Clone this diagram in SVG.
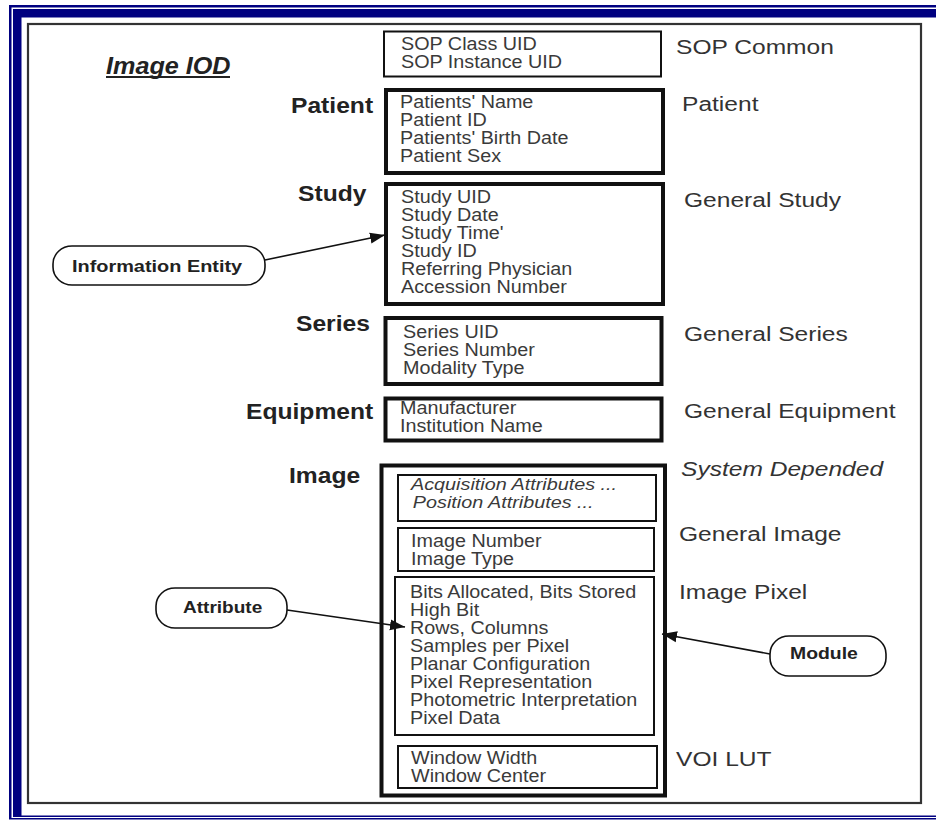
<svg xmlns="http://www.w3.org/2000/svg" width="936" height="820" viewBox="0 0 936 820">
<style>
text{font-family:"Liberation Sans",Arial,sans-serif}
.attr{font-size:17.5px;fill:#3a3a3a}
.it{font-style:italic;font-size:16.5px}
.mod{font-size:21px;fill:#333}
.ent{font-size:22px;font-weight:bold;fill:#222}
.call{font-size:17px;font-weight:bold;fill:#222}
.thin{fill:none;stroke:#111;stroke-width:2}
.thick{fill:none;stroke:#111;stroke-width:4}
.bubble{fill:#fff;stroke:#111;stroke-width:1.6}
.conn{fill:none;stroke:#111;stroke-width:1.6}
</style>
<defs>
<marker id="ah" markerUnits="userSpaceOnUse" markerWidth="16" markerHeight="12" refX="15" refY="6" orient="auto">
<path d="M0,0.5 L15,6 L0,11.5 z" fill="#111"/>
</marker>
</defs>
<rect x="0" y="0" width="936" height="820" fill="#fff"/>
<g id="frame">
<rect x="9" y="5" width="927" height="2.5" fill="#000080"/>
<rect x="9" y="5" width="2.5" height="814" fill="#000080"/>
<rect x="13" y="9" width="923" height="8.5" fill="#000080"/>
<rect x="13" y="9" width="8.5" height="808" fill="#000080"/>
<rect x="13" y="815.5" width="923" height="1.5" fill="#000080"/>
<rect x="9" y="818" width="927" height="1.5" fill="#000080"/>
<rect x="28" y="24" width="893" height="779" fill="none" stroke="#333" stroke-width="2.2"/>
</g>
<g id="title">
<text x="106" y="74" font-size="24" font-weight="bold" font-style="italic" fill="#222" transform="translate(106 0) scale(1.05 1) translate(-106 0)">Image IOD</text>
<rect x="106" y="76" width="124" height="2" fill="#222"/>
</g>
<g id="sop">
<rect class="thin" x="384" y="31.5" width="277" height="45"/>
<g transform="translate(401 0) scale(1.13 1)"><text class="attr" x="0" y="50">SOP Class UID</text><text class="attr" x="0" y="68">SOP Instance UID</text></g>
<text class="mod" transform="translate(676 54) scale(1.17 1)">SOP Common</text>
</g>
<g id="patient">
<text class="ent" transform="translate(291 113) scale(1.12 1)">Patient</text>
<rect class="thick" x="386" y="90" width="277" height="83"/>
<g transform="translate(400 0) scale(1.13 1)"><text class="attr" x="0" y="108">Patients' Name</text><text class="attr" x="0" y="126">Patient ID</text><text class="attr" x="0" y="144">Patients' Birth Date</text><text class="attr" x="0" y="162">Patient Sex</text></g>
<text class="mod" transform="translate(682 111) scale(1.17 1)">Patient</text>
</g>
<g id="study">
<text class="ent" transform="translate(298 201) scale(1.12 1)">Study</text>
<rect class="thick" x="386" y="184" width="277" height="120"/>
<g transform="translate(401 0) scale(1.13 1)"><text class="attr" x="0" y="203">Study UID</text><text class="attr" x="0" y="221">Study Date</text><text class="attr" x="0" y="239">Study Time'</text><text class="attr" x="0" y="257">Study ID</text><text class="attr" x="0" y="275">Referring Physician</text><text class="attr" x="0" y="293">Accession Number</text></g>
<text class="mod" transform="translate(684 207) scale(1.17 1)">General Study</text>
</g>
<g id="series">
<text class="ent" transform="translate(296 331) scale(1.12 1)">Series</text>
<rect class="thick" x="385.5" y="318" width="276" height="66" stroke-width="3.5"/>
<g transform="translate(403 0) scale(1.13 1)"><text class="attr" x="0" y="338">Series UID</text><text class="attr" x="0" y="356">Series Number</text><text class="attr" x="0" y="374">Modality Type</text></g>
<text class="mod" transform="translate(684 341) scale(1.17 1)">General Series</text>
</g>
<g id="equipment">
<text class="ent" transform="translate(246 419) scale(1.12 1)">Equipment</text>
<rect class="thick" x="385.5" y="398.5" width="276" height="42" stroke-width="3.5"/>
<g transform="translate(400 0) scale(1.13 1)"><text class="attr" x="0" y="414">Manufacturer</text><text class="attr" x="0" y="432">Institution Name</text></g>
<text class="mod" transform="translate(684 418) scale(1.17 1)">General Equipment</text>
</g>
<g id="image">
<text class="ent" transform="translate(289 483) scale(1.12 1)">Image</text>
<rect class="thick" x="381.5" y="465.5" width="283.5" height="330"/>
<text class="mod" font-style="italic" transform="translate(681 476) scale(1.17 1)">System Depended</text>
</g>
<g id="system-depended">
<rect class="thin" x="398" y="475" width="258" height="46"/>
<g transform="translate(411 0) scale(1.2 1)"><text class="attr it" x="0" y="490.5">Acquisition Attributes ...</text><text class="attr it" x="1.5" y="508.5">Position Attributes ...</text></g>
</g>
<g id="general-image">
<rect class="thin" x="398" y="528" width="256" height="43"/>
<g transform="translate(411 0) scale(1.13 1)"><text class="attr" x="0" y="547">Image Number</text><text class="attr" x="0" y="565">Image Type</text></g>
<text class="mod" transform="translate(679 541) scale(1.17 1)">General Image</text>
</g>
<g id="image-pixel">
<rect class="thin" x="395" y="577" width="259" height="158"/>
<g transform="translate(410 0) scale(1.13 1)"><text class="attr" x="0" y="598">Bits Allocated, Bits Stored</text><text class="attr" x="0" y="616">High Bit</text><text class="attr" x="0" y="634">Rows, Columns</text><text class="attr" x="0" y="652">Samples per Pixel</text><text class="attr" x="0" y="670">Planar Configuration</text><text class="attr" x="0" y="688">Pixel Representation</text><text class="attr" x="0" y="706">Photometric Interpretation</text><text class="attr" x="0" y="724">Pixel Data</text></g>
<text class="mod" transform="translate(679 599) scale(1.17 1)">Image Pixel</text>
</g>
<g id="voi-lut">
<rect class="thin" x="398" y="746" width="259" height="42"/>
<g transform="translate(411 0) scale(1.13 1)"><text class="attr" x="0" y="764">Window Width</text><text class="attr" x="0" y="782">Window Center</text></g>
<text class="mod" transform="translate(676 766) scale(1.17 1)">VOI LUT</text>
</g>
<g id="information-entity">
<rect class="bubble" x="53" y="246" width="212" height="39" rx="19" ry="18"/>
<text class="call" transform="translate(72 272) scale(1.17 1)">Information Entity</text>
</g>
<g id="attribute">
<rect class="bubble" x="156" y="588" width="131" height="40" rx="19" ry="18"/>
<text class="call" transform="translate(183 613) scale(1.12 1)">Attribute</text>
</g>
<g id="module">
<rect class="bubble" x="770" y="636" width="116" height="40" rx="19" ry="18"/>
<text class="call" transform="translate(790 659) scale(1.14 1)">Module</text>
</g>
<g id="connectors">
<line class="conn" x1="265" y1="260" x2="385" y2="235" marker-end="url(#ah)"/>
<line class="conn" x1="287" y1="610" x2="405" y2="627" marker-end="url(#ah)"/>
<line class="conn" x1="770" y1="654" x2="662" y2="634" marker-end="url(#ah)"/>
</g>
</svg>
